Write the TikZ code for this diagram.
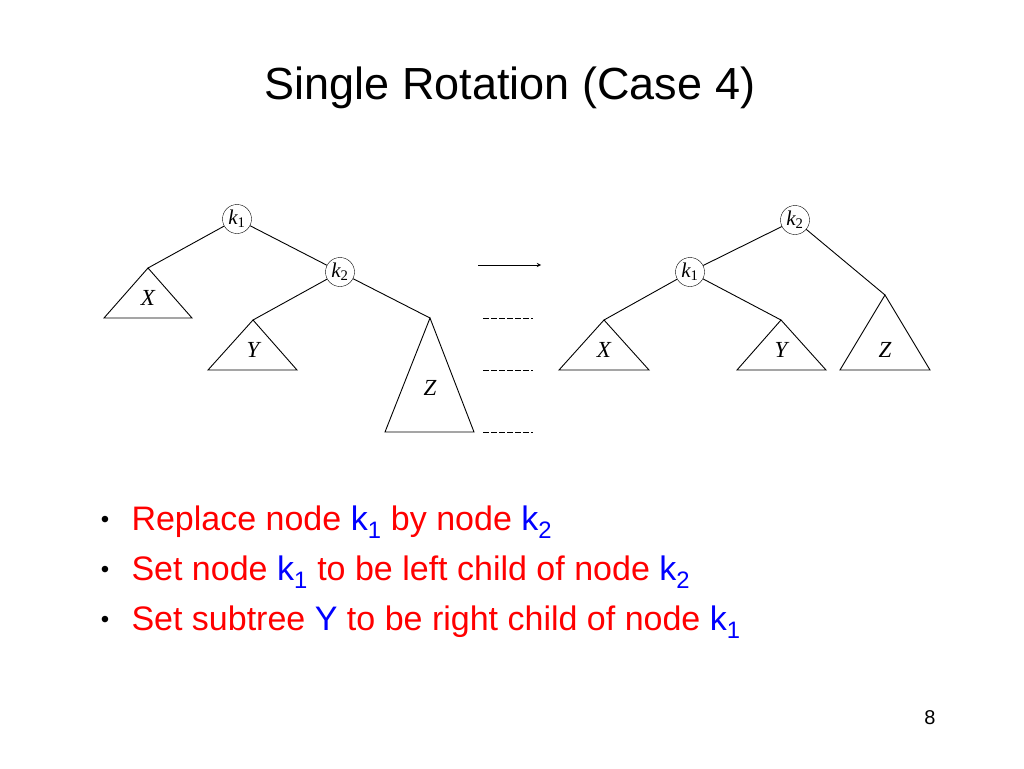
\documentclass[tikz,border=0pt]{standalone}
\usepackage{fontspec}
\setmainfont{Liberation Sans}
\newfontfamily\tms{Liberation Serif}
\definecolor{bred}{RGB}{255,0,0}
\definecolor{bblue}{RGB}{0,0,255}
\begin{document}
\begin{tikzpicture}[x=1pt,y=-1pt,
  kn/.style={draw,circle,minimum size=29pt,inner sep=0pt,font=\tms\itshape\fontsize{21}{21}\selectfont},
  tri/.style={draw,line width=0.9pt},
  lab/.style={font=\tms\itshape\fontsize{23}{23}\selectfont},
  ed/.style={line width=0.9pt},
  bl/.style={anchor=west,font=\fontsize{34}{34}\selectfont,text=bred},
  bul/.style={font=\fontsize{24}{24}\selectfont}]
\useasboundingbox (0,0) rectangle (1024,768);
\node[font=\fontsize{45}{45}\selectfont] (title) at (510,88) {Single Rotation (Case 4)};
% left tree
\node[kn] (a1) at (237,219) {k\textsubscript{\upshape 1}};
\node[kn] (a2) at (340,272) {k\textsubscript{\upshape 2}};
\coordinate (ax) at (148,268); \coordinate (ay) at (253,320); \coordinate (az) at (430,318);
\draw[tri] (ax) -- (104,318) -- (192,318) -- cycle;
\draw[tri] (ay) -- (208,370) -- (297,370) -- cycle;
\draw[tri] (az) -- (385,432) -- (474,432) -- cycle;
\node[lab] (lx) at (148,298) {X};
\node[lab] (ly) at (253,350) {Y};
\node[lab] (lz) at (430,388) {Z};
\draw[ed] (a1) -- (ax); \draw[ed] (a1) -- (a2); \draw[ed] (a2) -- (ay); \draw[ed] (a2) -- (az);
% arrow and dashes
\coordinate (ar1) at (478,265); \coordinate (ar2) at (541,265);
\draw[-stealth,line width=0.9pt] (ar1) -- (ar2);
\foreach \yy in {318,370,432} \draw[dash pattern=on 6pt off 2pt] (483,\yy) -- (533,\yy);
% right tree
\node[kn] (b2) at (795,220) {k\textsubscript{\upshape 2}};
\node[kn] (b1) at (690,272) {k\textsubscript{\upshape 1}};
\coordinate (bx) at (604,320); \coordinate (by) at (781,320); \coordinate (bz) at (885,295);
\draw[tri] (bx) -- (559,370) -- (649,370) -- cycle;
\draw[tri] (by) -- (737,370) -- (826,370) -- cycle;
\draw[tri] (bz) -- (840,370) -- (930,370) -- cycle;
\node[lab] (rx) at (604,350) {X};
\node[lab] (ry) at (781,350) {Y};
\node[lab] (rz) at (885,350) {Z};
\draw[ed] (b2) -- (b1); \draw[ed] (b2) -- (bz); \draw[ed] (b1) -- (bx); \draw[ed] (b1) -- (by);
% bullets
\foreach \yy/\nm in {522/u1,572/u2,622/u3} \node[bul] (\nm) at (105,\yy) {•};
\node[bl] (t1) at (128,522) {Replace node \textcolor{bblue}{k\textsubscript{1}} by node \textcolor{bblue}{k\textsubscript{2}}};
\node[bl] (t2) at (128,572) {Set node \textcolor{bblue}{k\textsubscript{1}} to be left child of node \textcolor{bblue}{k\textsubscript{2}}};
\node[bl] (t3) at (128,622) {Set subtree \textcolor{bblue}{Y} to be right child of node \textcolor{bblue}{k\textsubscript{1}}};
\node[font=\fontsize{20}{20}\selectfont] (pg) at (930,718) {8};
\end{tikzpicture}
\end{document}
